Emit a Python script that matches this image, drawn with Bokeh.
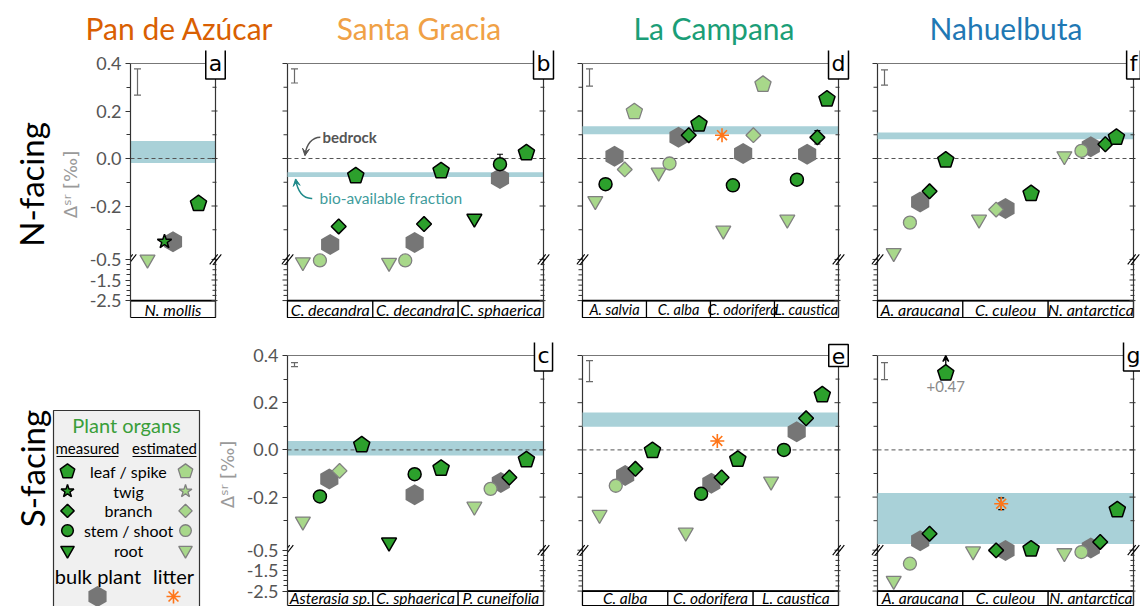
import numpy as np
from bokeh.plotting import figure
from bokeh.layouts import row, column
from bokeh.models import Range1d, LinearAxis, FixedTicker, Label, Title, Arrow, VeeHead
from bokeh.core.properties import value
from bokeh.embed import file_html
from bokeh.resources import INLINE

# ---------------------------------------------------------------- data
SITES = ["Pan de Azúcar", "Santa Gracia", "La Campana", "Nahuelbuta"]
SITE_COLORS = ["#d95f02", "#f0a146", "#1b9e77", "#1f78b4"]

# a: Pan de Azúcar, N-facing
a_species = ["N. mollis"]
a_x = [0.20, 0.40, 0.50, 0.80]
a_organ = ["root", "twig", "bulk", "leaf"]
a_kind = ["est", "meas", "bulk", "meas"]
a_val = [-0.50, -0.35, -0.35, -0.19]
a_err = [0, 0, 0, 0]
a_bio = [-0.019, 0.074]
a_unc = [0.267, 0.377]

# b: Santa Gracia, N-facing
b_species = ["C. decandra", "C. decandra", "C. sphaerica"]
b_x = [0.18, 0.38, 0.50, 0.60, 0.80,
       1.19, 1.38, 1.49, 1.60, 1.80,
       2.19, 2.49, 2.49, 2.80]
b_organ = ["root", "stem", "bulk", "branch", "leaf",
           "root", "stem", "bulk", "branch", "leaf",
           "root", "bulk", "stem", "leaf"]
b_kind = ["est", "est", "bulk", "meas", "meas",
          "est", "est", "bulk", "meas", "meas",
          "meas", "bulk", "meas", "meas"]
b_val = [-0.63, -0.55, -0.362, -0.286, -0.073,
         -0.66, -0.55, -0.354, -0.276, -0.052,
         -0.253, -0.084, -0.024, 0.024]
b_err = [0, 0, 0, 0, 0, 0, 0, 0, 0, 0, 0, 0, 0.042, 0]
b_bio = [-0.078, -0.058]
b_unc = [0.318, 0.377]

# d: La Campana, N-facing
d_species = ["A. salvia", "C. alba", "C. odorifera", "L. caustica"]
d_x = [0.20, 0.36, 0.50, 0.66, 0.81,
       1.19, 1.36, 1.50, 1.66, 1.82,
       2.20, 2.18, 2.35, 2.51, 2.67, 2.82,
       3.20, 3.35, 3.51, 3.67, 3.82]
d_organ = ["root", "stem", "bulk", "branch", "leaf",
           "root", "stem", "bulk", "branch", "leaf",
           "root", "litter", "stem", "bulk", "branch", "leaf",
           "root", "stem", "bulk", "branch", "leaf"]
d_kind = ["est", "meas", "bulk", "est", "est",
          "est", "est", "bulk", "meas", "meas",
          "est", "litter", "meas", "bulk", "est", "est",
          "est", "meas", "bulk", "meas", "meas"]
d_val = [-0.179, -0.108, 0.010, -0.046, 0.197,
         -0.059, -0.021, 0.089, 0.098, 0.145,
         -0.303, 0.098, -0.113, 0.021, 0.098, 0.312,
         -0.257, -0.089, 0.018, 0.089, 0.250]
d_err = [0] * 19 + [0.028, 0.025]
d_bio = [0.102, 0.136]
d_unc = [0.305, 0.377]

# f: Nahuelbuta, N-facing
f_species = ["A. araucana", "C. culeou", "N. antarctica"]
f_x = [0.19, 0.38, 0.50, 0.61, 0.80,
       1.19, 1.39, 1.50, 1.80,
       2.19, 2.39, 2.50, 2.67, 2.80]
f_organ = ["root", "stem", "bulk", "branch", "leaf",
           "root", "branch", "bulk", "leaf",
           "root", "stem", "bulk", "branch", "leaf"]
f_kind = ["est", "est", "bulk", "meas", "meas",
          "est", "est", "bulk", "meas",
          "est", "est", "bulk", "meas", "meas"]
f_val = [-0.398, -0.270, -0.183, -0.138, -0.007,
         -0.257, -0.215, -0.211, -0.148,
         0.010, 0.032, 0.049, 0.060, 0.089]
f_err = [0] * 14
f_bio = [0.081, 0.110]
f_unc = [0.309, 0.373]

# c: Santa Gracia, S-facing
c_species = ["Asterasia sp.", "C. sphaerica", "P. cuneifolia"]
c_x = [0.18, 0.38, 0.49, 0.61, 0.87,
       1.19, 1.49, 1.49, 1.80,
       2.19, 2.38, 2.50, 2.60, 2.80]
c_organ = ["root", "stem", "bulk", "branch", "leaf",
           "root", "bulk", "stem", "leaf",
           "root", "stem", "bulk", "branch", "leaf"]
c_kind = ["est", "meas", "bulk", "est", "meas",
          "meas", "bulk", "meas", "meas",
          "est", "est", "bulk", "meas", "meas"]
c_val = [-0.303, -0.197, -0.123, -0.089, 0.021,
         -0.392, -0.190, -0.103, -0.078,
         -0.240, -0.165, -0.138, -0.117, -0.042]
c_err = [0] * 12 + [0.012, 0.022]
c_bio = [-0.024, 0.038]
c_unc = [0.353, 0.370]

# e: La Campana, S-facing
e_species = ["C. alba", "C. odorifera", "L. caustica"]
e_x = [0.20, 0.39, 0.50, 0.62, 0.82,
       1.21, 1.39, 1.51, 1.58, 1.63, 1.82,
       2.21, 2.36, 2.51, 2.62, 2.81]
e_organ = ["root", "stem", "bulk", "branch", "leaf",
           "root", "stem", "bulk", "litter", "branch", "leaf",
           "root", "stem", "bulk", "branch", "leaf"]
e_kind = ["est", "est", "bulk", "meas", "meas",
          "est", "meas", "bulk", "litter", "meas", "meas",
          "est", "meas", "bulk", "meas", "meas"]
e_val = [-0.275, -0.152, -0.109, -0.080, -0.003,
         -0.350, -0.186, -0.141, 0.038, -0.117, -0.040,
         -0.134, 0.000, 0.077, 0.134, 0.233]
e_err = [0] * 6 + [0.010] + [0] * 9
e_bio = [0.098, 0.158]
e_unc = [0.289, 0.378]

# g: Nahuelbuta, S-facing
g_species = ["A. araucana", "C. culeou", "N. antarctica"]
g_x = [0.19, 0.38, 0.50, 0.61, 0.80,
       1.12, 1.39, 1.50, 1.45, 1.80,
       2.19, 2.39, 2.50, 2.61, 2.81]
g_organ = ["root", "stem", "bulk", "branch", "leaf",
           "root", "branch", "bulk", "litter", "leaf",
           "root", "stem", "bulk", "branch", "leaf"]
g_kind = ["est", "est", "bulk", "meas", "meas",
          "est", "meas", "bulk", "litter", "meas",
          "est", "est", "bulk", "meas", "meas"]
g_val = [-1.99, -1.16, -0.385, -0.355, 0.47,
         -0.55, -0.51, -0.51, -0.228, -0.42,
         -0.64, -0.59, -0.416, -0.39, -0.254]
g_err = [0] * 8 + [0.025] + [0] * 6
g_bio = [-0.399, -0.183]
g_unc = [0.298, 0.370]

# legend entries
LEGEND_ORGANS = ["leaf", "twig", "branch", "stem", "root"]
LEGEND_NAMES = ["leaf / spike", "twig", "branch", "stem / shoot", "root"]

# ---------------------------------------------------------------- axis with a break
Y_TOP, Y_BOTTOM = 0.4, -2.5
BREAK_TOP, BREAK_VALUE = -0.425, -0.5
LOWER_SCALE = 0.0866
OFFSCALE_CAP = 0.325


def ty(v):
    v = np.asarray(v, dtype=float)
    lower = BREAK_TOP + (np.minimum(v, BREAK_VALUE) - BREAK_VALUE) * LOWER_SCALE
    return np.where(v > BREAK_TOP, v, lower)


MAJOR_VALUES = [0.4, 0.2, 0.0, -0.2, -0.5, -1.5, -2.5]
MAJOR_TEXT = ["0.4", "0.2", "0.0", "-0.2", "-0.5", "-1.5", "-2.5"]
MINOR_VALUES = [0.3, 0.1, -0.1, -0.3, -0.75, -1.0, -1.25, -1.75, -2.0, -2.25]
MAJOR_T = [round(float(t), 6) for t in ty(MAJOR_VALUES)]
MINOR_T = [round(float(t), 6) for t in ty(MINOR_VALUES)]
OVERRIDES = {t: s for t, s in zip(MAJOR_T, MAJOR_TEXT)}
T_BOTTOM = float(ty(Y_BOTTOM))

FONT = "Lato"
BAND = "#a9d1d8"
SPINE = "#333333"
MEAS_FILL, MEAS_LINE = "#2ca02c", "#000000"
EST_FILL, EST_LINE = "#a8d88a", "#808080"
BULK_FILL = "#767676"
LITTER_COLOR = "#ff7518"

MARKERS = {"root": ("inverted_triangle", 15, 0.0), "stem": ("circle", 13, 0.0),
           "branch": ("square", 10.5, np.pi / 4), "twig": ("star", 15, 0.0),
           "bulk": ("hex", 21, np.pi / 2), "litter": ("asterisk", 14, 0.0)}
PENTAGON_R = 8.5
DRAW_ORDER = [("bulk", "bulk"),
              ("root", "est"), ("stem", "est"), ("branch", "est"), ("twig", "est"), ("leaf", "est"),
              ("root", "meas"), ("stem", "meas"), ("branch", "meas"), ("twig", "meas"), ("leaf", "meas"),
              ("litter", "litter")]

PAD_TOP = 13  # room above the axis for the panel letter


def mark_style(kind):
    if kind == "meas":
        return dict(fill_color=MEAS_FILL, line_color=MEAS_LINE, line_width=1.5)
    if kind == "est":
        return dict(fill_color=EST_FILL, line_color=EST_LINE, line_width=1.3)
    if kind == "bulk":
        return dict(fill_color=BULK_FILL, line_color=None)
    return dict(fill_color=None, line_color=LITTER_COLOR, line_width=1.6)


def draw_marks(p, organ, kind, xs, ys, sx, sy, scale=1.0):
    """sx, sy: screen pixels per data unit along x and y (sy < 0 for a downward y axis)."""
    if len(xs) == 0:
        return
    st = mark_style(kind)
    if organ == "leaf":
        # upright pentagon, built in screen pixels and mapped back to data units
        theta = np.pi / 2 + 2 * np.pi * np.arange(5) / 5
        r = PENTAGON_R * scale
        pxs = [list(x + r * np.cos(theta) / sx) for x in xs]
        pys = [list(y + r * np.sin(theta) / sy) for y in ys]
        p.patches(xs=pxs, ys=pys, **st)
    else:
        m, s, a = MARKERS[organ]
        p.scatter(x=list(xs), y=list(ys), marker=m, size=s * scale, angle=a, **st)


def spine_ticks(p, x0, ppx, left_px, right_px, minor_left, minor_right):
    p.segment(x0=[x0 - left_px / ppx] * len(MAJOR_T), x1=[x0 + right_px / ppx] * len(MAJOR_T),
              y0=MAJOR_T, y1=MAJOR_T, line_color=SPINE, line_width=1)
    p.segment(x0=[x0 - minor_left / ppx] * len(MINOR_T), x1=[x0 + minor_right / ppx] * len(MINOR_T),
              y0=MINOR_T, y1=MINOR_T, line_color=SPINE, line_width=1)


def build_panel(species, xs, organs, kinds, vals, errs, bio, unc, letter,
                top_row, plot_w, pad_left, pad_right, border_left, border_right, labeled,
                site=None, site_color=None, title_offset=0, species_font="16px"):
    n = len(species)
    ppx = plot_w / n
    ppy = 237.5 if top_row else 236.0
    frame_h = 268 if top_row else 264
    y_hi = Y_TOP + PAD_TOP / ppy
    y_lo = y_hi - frame_h / ppy
    p = figure(frame_width=pad_left + plot_w + pad_right, frame_height=frame_h,
               x_range=Range1d(-pad_left / ppx, n + pad_right / ppx), y_range=Range1d(y_lo, y_hi),
               x_axis_location=None, y_axis_location=None,
               toolbar_location=None, output_backend="svg", title=site,
               min_border_left=border_left, min_border_right=border_right,
               min_border_top=50 if top_row else 12, min_border_bottom=12 if top_row else 0)
    p.outline_line_color = None
    p.grid.grid_line_color = None
    if site:
        p.title.align = "center"
        p.title.text_font = FONT
        p.title.text_font_size = "30px"
        p.title.text_font_style = "normal"
        p.title.text_color = site_color
        p.title.offset = title_offset
        p.title.standoff = 10

    strip_bottom = y_lo + 1.0 / ppy

    if labeled:
        ax = LinearAxis(ticker=FixedTicker(ticks=MAJOR_T, minor_ticks=MINOR_T),
                        bounds=(strip_bottom, Y_TOP), axis_line_color=SPINE, axis_line_width=1.2,
                        major_tick_line_color=SPINE, minor_tick_line_color=SPINE,
                        major_tick_in=0, major_tick_out=5, minor_tick_in=0, minor_tick_out=4,
                        major_label_overrides=OVERRIDES, major_label_text_font=FONT,
                        major_label_text_font_size="18px", major_label_text_color="#555555",
                        major_label_standoff=4, axis_label="Δˢʳ [‰]",
                        axis_label_text_font="DejaVu Sans", axis_label_text_font_style="normal",
                        axis_label_text_font_size="18px", axis_label_text_color="#9a9a9a",
                        axis_label_standoff=6)
        p.add_layout(ax, "left")
    else:
        p.segment(x0=[0], x1=[0], y0=[strip_bottom], y1=[Y_TOP], line_color=SPINE, line_width=1.2)
        spine_ticks(p, 0, ppx, 5, 0, 4, 0)

    # bio-available Sr band and bedrock reference
    p.quad(left=[0], right=[n], bottom=[float(ty(bio[0]))], top=[float(ty(bio[1]))],
           fill_color=BAND, line_color=None)
    p.segment(x0=[0], x1=[n], y0=[0.0], y1=[0.0], line_color="#555555",
              line_dash="4 3", line_width=1)

    # species strip underneath the axis
    idx = np.arange(n)
    label_offset_px = 8.5 if top_row else 7.0
    p.quad(left=idx, right=idx + 1, top=[T_BOTTOM] * n, bottom=[strip_bottom] * n,
           fill_color="white", line_color="black", line_width=1.2)
    p.text(x=idx + 0.5, y=[T_BOTTOM - label_offset_px / ppy] * n, text=species,
           text_font=value(FONT), text_font_style="italic", text_font_size=species_font,
           text_align="center", text_baseline="middle", text_color="black")
    p.segment(x0=[0], x1=[n], y0=[T_BOTTOM], y1=[T_BOTTOM], line_color="black", line_width=1.8)

    # frame: top and right spines
    p.segment(x0=[0], x1=[n], y0=[Y_TOP], y1=[Y_TOP], line_color="#777777", line_width=1.2)
    p.segment(x0=[n], x1=[n], y0=[strip_bottom], y1=[Y_TOP], line_color=SPINE, line_width=1.2)
    spine_ticks(p, n, ppx, 4, 2, 3, 1)

    # axis break marks
    for xb in (0, n):
        for dx in (-1.8, 1.8):
            p.segment(x0=[xb + (dx - 4) / ppx], x1=[xb + (dx + 4) / ppx],
                      y0=[BREAK_TOP - 5 / ppy], y1=[BREAK_TOP + 5 / ppy],
                      line_color="black", line_width=1.1)

    # analytical uncertainty bar
    xu = 7.0 / ppx
    p.segment(x0=[xu], x1=[xu], y0=[unc[0]], y1=[unc[1]], line_color="#6a6a6a", line_width=1.2)
    p.scatter(x=[xu, xu], y=unc, marker="dash", size=7, line_color="#6a6a6a", line_width=1.2)

    xs = np.asarray(xs, float)
    vals = np.asarray(vals, float)
    errs = np.asarray(errs, float)
    organs = np.asarray(organs)
    kinds = np.asarray(kinds)
    disp = np.minimum(vals, OFFSCALE_CAP)
    yd = ty(disp)

    has_err = errs > 0
    if has_err.any():
        lo = ty(disp[has_err] - errs[has_err])
        hi = ty(disp[has_err] + errs[has_err])
        p.segment(x0=xs[has_err], x1=xs[has_err], y0=lo, y1=hi, line_color="black", line_width=1.2)
        p.scatter(x=np.concatenate([xs[has_err], xs[has_err]]), y=np.concatenate([lo, hi]),
                  marker="dash", size=6, line_color="black", line_width=1.2)

    for organ, kind in DRAW_ORDER:
        sel = (organs == organ) & (kinds == kind)
        draw_marks(p, organ, kind, xs[sel], yd[sel], ppx, ppy)

    # values beyond the top of the axis
    for x, v, d in zip(xs, vals, disp):
        if v > OFFSCALE_CAP:
            p.add_layout(Arrow(x_start=x, y_start=d + 0.035, x_end=x, y_end=Y_TOP,
                               line_color="black", line_width=1.3,
                               end=VeeHead(size=6, line_color="black", fill_color="black",
                                           line_width=1.3)))
            p.text(x=[x], y=[d - 0.055], text=[f"+{v:.2f}"], text_font=value(FONT),
                   text_font_size="15px", text_color="#8a8a8a", text_align="center",
                   text_baseline="middle")

    # panel letter
    p.add_layout(Label(x=n, y=Y_TOP, text=letter, text_font="DejaVu Sans", text_font_size="22px",
                       text_align="center", text_baseline="middle", text_color="black",
                       background_fill_color="white", border_line_color="black",
                       border_line_width=1.5, padding=3))
    return p


pa = build_panel(a_species, a_x, a_organ, a_kind, a_val, a_err, a_bio, a_unc, "a",
                 True, 85, 0, 13, 130, 52, True, SITES[0], SITE_COLORS[0], title_offset=8)
pa.add_layout(Title(text="N-facing", align="center", text_font=FONT, text_font_size="33px",
                    text_font_style="normal", text_color="black", standoff=12), "left")
pb = build_panel(b_species, b_x, b_organ, b_kind, b_val, b_err, b_bio, b_unc, "b",
                 True, 256, 6, 13, 1, 14, False, SITES[1], SITE_COLORS[1])
pd = build_panel(d_species, d_x, d_organ, d_kind, d_val, d_err, d_bio, d_unc, "d",
                 True, 256, 6, 13, 6, 9, False, SITES[2], SITE_COLORS[2], species_font="14.5px")
pf = build_panel(f_species, f_x, f_organ, f_kind, f_val, f_err, f_bio, f_unc, "f",
                 True, 256, 6, 7, 11, 0, False, SITES[3], SITE_COLORS[3])
pc = build_panel(c_species, c_x, c_organ, c_kind, c_val, c_err, c_bio, c_unc, "c",
                 False, 256, 0, 13, 77, 14, True, species_font="15.5px")
pe = build_panel(e_species, e_x, e_organ, e_kind, e_val, e_err, e_bio, e_unc, "e",
                 False, 256, 6, 13, 6, 9, False, species_font="15.5px")
pg = build_panel(g_species, g_x, g_organ, g_kind, g_val, g_err, g_bio, g_unc, "g",
                 False, 256, 6, 7, 11, 0, False, species_font="15.5px")

# callouts for the bedrock line and the bio-available band
pb.text(x=[0.41], y=[0.092], text=["bedrock"], text_font=value(FONT), text_font_style="bold",
        text_font_size="15px", text_color="#555555", text_align="left", text_baseline="middle")
pb.bezier(x0=[0.385], y0=[0.09], x1=[0.205], y1=[0.014], cx0=[0.29], cy0=[0.09],
          cx1=[0.22], cy1=[0.06], line_color="#555555", line_width=1.5)
pb.add_layout(Arrow(x_start=0.212, y_start=0.03, x_end=0.205, y_end=0.012, line_color="#555555",
                    line_width=1.5, end=VeeHead(size=7, fill_color="#555555", line_color="#555555")))
pb.text(x=[0.375], y=[-0.168], text=["bio-available fraction"], text_font=value(FONT),
        text_font_size="15.5px", text_color="#3f9c9c", text_align="left", text_baseline="middle")
pb.bezier(x0=[0.29], y0=[-0.168], x1=[0.095], y1=[-0.088], cx0=[0.17], cy0=[-0.17],
          cx1=[0.115], cy1=[-0.13], line_color="#1f8a8a", line_width=1.5)
pb.add_layout(Arrow(x_start=0.103, y_start=-0.104, x_end=0.095, y_end=-0.086, line_color="#1f8a8a",
                    line_width=1.5, end=VeeHead(size=7, fill_color="#1f8a8a", line_color="#1f8a8a")))

# ---------------------------------------------------------------- legend panel
# laid out in page pixels of the lower row (y grows downwards)
leg = figure(frame_width=210, frame_height=264, x_range=Range1d(0, 210), y_range=Range1d(606, 342),
             x_axis_location=None, y_axis_location=None, toolbar_location=None,
             output_backend="svg", min_border_left=0, min_border_right=0,
             min_border_top=12, min_border_bottom=0, title=None)
leg.outline_line_color = None
leg.grid.grid_line_color = None
leg.text(x=[31], y=[468], text=["S-facing"], angle=np.pi / 2, text_font=value(FONT),
         text_font_size="33px", text_align="center", text_baseline="middle", text_color="black")
leg.quad(left=[53], right=[199], top=[410], bottom=[620], fill_color="#f0f0f0",
         line_color="#333333", line_width=1.2)
leg.text(x=[126], y=[424], text=["Plant organs"], text_font=value(FONT), text_font_size="20px",
         text_color="#3a9e3a", text_align="center", text_baseline="middle")
leg.text(x=[87, 164], y=[447, 447], text=["measured", "estimated"], text_font=value(FONT),
         text_font_size="15px", text_color="black", text_align="center", text_baseline="middle")
leg.segment(x0=[56, 132], x1=[118, 196], y0=[456, 456], y1=[456, 456], line_color="black",
            line_width=1.2)
row_y = 471 + 19.7 * np.arange(len(LEGEND_ORGANS))
leg.text(x=[128] * len(LEGEND_NAMES), y=row_y, text=LEGEND_NAMES, text_font=value(FONT),
         text_font_size="16px", text_color="black", text_align="center", text_baseline="middle")
for organ, yy in zip(LEGEND_ORGANS, row_y):
    draw_marks(leg, organ, "meas", [67], [yy], 1.0, -1.0, scale=0.9)
    draw_marks(leg, organ, "est", [185], [yy], 1.0, -1.0, scale=0.9)
leg.text(x=[97.5, 173], y=[575, 575], text=["bulk plant", "litter"], text_font=value(FONT),
         text_font_size="20px", text_color="black", text_align="center", text_baseline="middle")
draw_marks(leg, "bulk", "bulk", [97], [596], 1.0, -1.0)
draw_marks(leg, "litter", "litter", [173], [596], 1.0, -1.0)

layout = column(row(pa, pb, pd, pf), row(leg, pc, pe, pg))
open("out.html", "w").write(file_html(layout, INLINE, "Sr isotopes in plant organs"))
